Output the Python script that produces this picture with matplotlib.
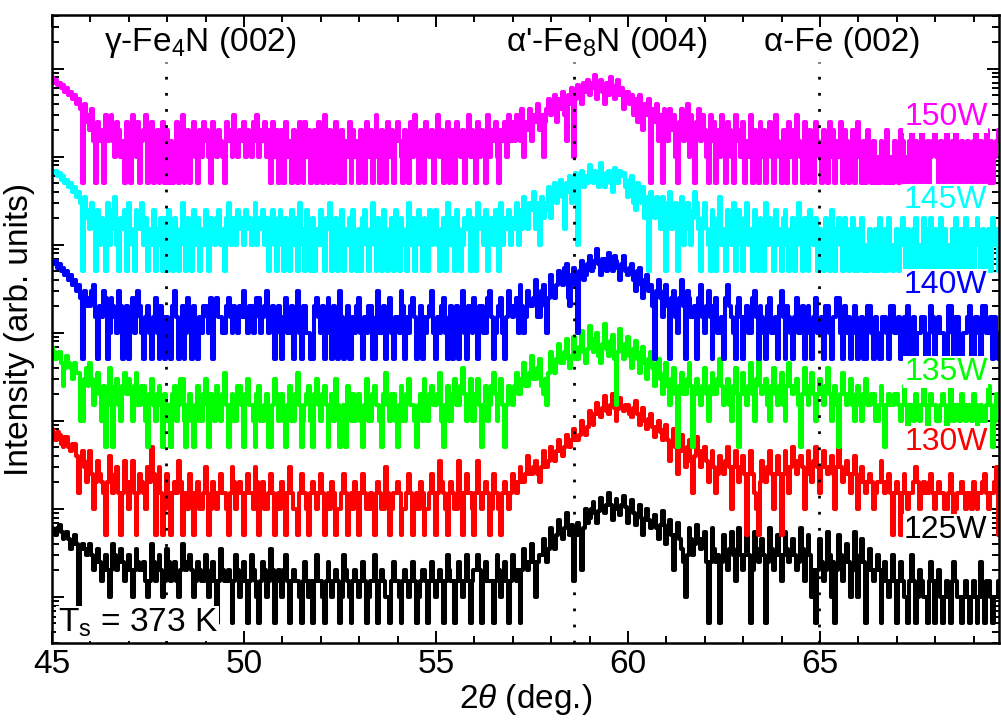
import numpy as np
import matplotlib
matplotlib.use('Agg')
import matplotlib.pyplot as plt
from matplotlib.ticker import LogLocator, NullFormatter, MultipleLocator

plt.rcParams['font.family'] = ['Liberation Sans', 'DejaVu Sans']
plt.rcParams['mathtext.fontset'] = 'custom'
plt.rcParams['mathtext.rm'] = 'Liberation Sans'
plt.rcParams['mathtext.it'] = 'Liberation Sans:italic'

# XRD counts, one value every 0.05 deg from 45.00 to 69.65
# (one line = one degree)
start_2theta = 45.0
step_2theta = 0.05

counts_125W = [
    12, 11, 10, 12, 13, 11, 9, 10, 11, 9, 7, 8, 10, 8, 1, 7, 8, 7, 6, 7,
    8, 6, 4, 5, 7, 5, 3, 4, 6, 4, 2, 4, 8, 6, 4, 5, 7, 5, 3, 4,
    6, 4, 2, 4, 7, 5, 4, 4, 5, 3, 2, 3, 8, 5, 3, 4, 6, 4, 2, 3,
    7, 5, 3, 4, 5, 3, 2, 4, 8, 5, 4, 5, 6, 4, 2, 3, 5, 4, 3, 3,
    6, 4, 2, 3, 5, 3, 1, 3, 7, 4, 3, 3, 4, 3, 1, 3, 6, 4, 2, 3,
    5, 3, 1, 3, 6, 4, 3, 2, 1, 3, 5, 4, 2, 3, 7, 4, 1, 3, 4, 3,
    2, 4, 6, 3, 1, 3, 4, 3, 3, 2, 1, 3, 5, 3, 2, 3, 1, 3, 6, 3,
    3, 2, 1, 3, 5, 3, 2, 3, 4, 3, 1, 2, 6, 4, 3, 2, 1, 3, 4, 3,
    2, 3, 5, 3, 1, 2, 3, 3, 6, 3, 1, 3, 4, 3, 2, 2, 1, 3, 5, 3,
    3, 2, 1, 3, 4, 3, 2, 3, 5, 3, 1, 2, 3, 4, 4, 3, 1, 3, 5, 3,
    2, 3, 4, 3, 1, 3, 6, 4, 3, 3, 1, 3, 5, 3, 2, 3, 6, 3, 1, 3,
    4, 4, 6, 4, 1, 3, 5, 3, 3, 3, 1, 3, 6, 4, 2, 3, 5, 3, 1, 3,
    6, 4, 3, 4, 1, 4, 7, 5, 4, 5, 8, 5, 2, 5, 6, 6, 9, 7, 5, 7,
    12, 9, 7, 10, 15, 11, 9, 12, 18, 12, 10, 13, 3, 10, 14, 10, 4, 12, 20, 14,
    16, 20, 24, 18, 14, 19, 27, 21, 18, 22, 30, 22, 15, 20, 26, 20, 17, 22, 28, 21,
    14, 19, 25, 18, 13, 17, 22, 16, 10, 15, 20, 15, 12, 14, 17, 12, 9, 13, 19, 13,
    8, 11, 15, 10, 4, 10, 14, 9, 7, 5, 2, 6, 12, 9, 6, 8, 13, 9, 7, 9,
    11, 5, 1, 5, 12, 7, 5, 6, 1, 5, 10, 6, 4, 7, 11, 6, 3, 7, 12, 6,
    4, 6, 10, 6, 1, 4, 11, 7, 5, 6, 9, 6, 1, 5, 12, 7, 4, 6, 10, 6,
    3, 6, 11, 7, 5, 6, 9, 6, 4, 5, 12, 7, 3, 6, 10, 6, 2, 4, 1, 4,
    9, 5, 3, 4, 11, 6, 2, 5, 1, 4, 10, 6, 3, 5, 8, 5, 2, 4, 11, 6,
    2, 5, 9, 5, 1, 4, 7, 4, 3, 4, 6, 4, 1, 3, 5, 3, 2, 3, 6, 3,
    1, 3, 5, 3, 2, 2, 1, 3, 6, 3, 1, 2, 4, 3, 2, 2, 1, 3, 5, 3,
    1, 3, 4, 2, 1, 2, 3, 2, 1, 3, 5, 3, 2, 2, 1, 2, 3, 2, 1, 2,
    3, 2, 1, 2, 5, 2, 1, 3, 3, 2, 1, 2, 2, 3,
]

counts_130W = [
    16, 14, 12, 15, 14, 11, 10, 13, 13, 10, 9, 11, 11, 8, 3, 7, 9, 6, 4, 7,
    9, 5, 2, 4, 7, 5, 4, 3, 1, 4, 8, 5, 3, 4, 6, 3, 1, 3, 7, 4,
    2, 4, 7, 3, 1, 3, 5, 4, 3, 2, 6, 4, 10, 5, 1, 3, 6, 3, 1, 2,
    5, 3, 1, 3, 4, 3, 7, 4, 1, 2, 3, 2, 5, 3, 1, 3, 4, 2, 2, 3,
    6, 3, 1, 2, 4, 3, 2, 3, 5, 3, 3, 2, 1, 3, 6, 4, 2, 3, 4, 3,
    1, 3, 5, 3, 3, 2, 6, 4, 1, 3, 4, 2, 2, 3, 5, 3, 1, 2, 3, 2,
    4, 3, 1, 3, 6, 3, 2, 2, 1, 3, 5, 3, 3, 2, 1, 3, 4, 3, 2, 3,
    5, 3, 1, 2, 3, 2, 4, 3, 1, 2, 2, 3, 5, 3, 1, 2, 3, 2, 4, 3,
    1, 3, 5, 3, 2, 2, 3, 2, 1, 3, 4, 3, 2, 2, 6, 3, 1, 2, 3, 3,
    4, 3, 1, 2, 2, 3, 5, 3, 1, 2, 3, 2, 4, 3, 1, 2, 2, 3, 5, 3,
    1, 3, 7, 4, 3, 2, 1, 3, 4, 3, 2, 2, 7, 3, 1, 3, 5, 3, 3, 2,
    1, 3, 7, 3, 2, 3, 4, 3, 1, 2, 5, 3, 3, 2, 1, 3, 4, 3, 2, 3,
    5, 4, 3, 4, 6, 4, 4, 5, 8, 5, 5, 6, 7, 5, 4, 6, 9, 6, 6, 7,
    10, 8, 7, 9, 12, 9, 8, 10, 14, 11, 10, 12, 16, 12, 12, 14, 20, 15, 14, 17,
    26, 20, 18, 24, 32, 24, 22, 28, 38, 26, 24, 30, 40, 28, 20, 27, 36, 28, 26, 30,
    30, 24, 22, 28, 34, 24, 18, 22, 28, 20, 16, 21, 24, 17, 13, 17, 20, 15, 12, 16,
    18, 12, 7, 11, 16, 10, 5, 9, 14, 9, 6, 10, 12, 7, 3, 8, 13, 9, 6, 9,
    10, 7, 4, 6, 9, 6, 3, 5, 8, 6, 5, 7, 10, 6, 2, 6, 9, 6, 4, 6,
    8, 5, 1, 5, 9, 5, 3, 2, 1, 4, 7, 5, 4, 6, 9, 5, 2, 5, 8, 5,
    1, 5, 9, 6, 3, 6, 10, 7, 5, 7, 8, 6, 2, 5, 9, 6, 4, 7, 10, 6,
    3, 6, 9, 6, 5, 6, 8, 5, 2, 6, 10, 6, 4, 5, 7, 5, 3, 5, 8, 5,
    2, 4, 6, 4, 3, 4, 5, 4, 2, 3, 4, 4, 7, 4, 3, 4, 5, 3, 1, 3,
    4, 3, 1, 3, 5, 3, 2, 3, 3, 4, 6, 4, 2, 3, 4, 3, 3, 4, 5, 3,
    2, 3, 4, 3, 3, 2, 2, 3, 5, 3, 1, 2, 3, 3, 4, 3, 2, 3, 3, 2,
    4, 3, 2, 3, 3, 4, 5, 3, 2, 3, 3, 4, 6, 1,
]

counts_135W = [
    14, 12, 10, 11, 12, 9, 5, 8, 11, 9, 8, 6, 9, 7, 7, 2, 2, 6, 8, 5,
    9, 6, 3, 5, 7, 4, 2, 5, 1, 3, 8, 5, 1, 4, 6, 3, 2, 5, 7, 4,
    6, 4, 2, 5, 7, 3, 3, 5, 5, 2, 1, 4, 6, 3, 2, 4, 5, 3, 1, 4,
    2, 3, 1, 4, 5, 2, 3, 6, 6, 2, 1, 3, 4, 2, 1, 3, 5, 2, 2, 4,
    6, 3, 1, 4, 3, 2, 5, 3, 2, 4, 7, 3, 1, 3, 4, 2, 2, 5, 5, 3,
    1, 4, 6, 3, 3, 2, 1, 4, 5, 2, 2, 3, 4, 1, 1, 3, 6, 4, 2, 3,
    4, 2, 1, 3, 5, 2, 2, 4, 7, 3, 1, 2, 3, 4, 5, 2, 1, 4, 6, 3,
    2, 4, 5, 3, 1, 3, 4, 2, 6, 3, 1, 2, 3, 1, 5, 3, 2, 4, 2, 3,
    4, 2, 1, 3, 6, 2, 2, 4, 5, 3, 3, 2, 1, 4, 7, 3, 2, 4, 4, 2,
    1, 3, 5, 2, 2, 4, 6, 3, 3, 2, 1, 3, 4, 2, 6, 3, 2, 4, 5, 3,
    3, 4, 7, 2, 1, 3, 5, 2, 2, 4, 6, 3, 3, 5, 8, 4, 2, 3, 6, 2,
    2, 4, 6, 3, 1, 3, 5, 2, 3, 5, 7, 4, 2, 4, 6, 3, 1, 3, 5, 4,
    3, 5, 7, 4, 4, 6, 9, 5, 5, 7, 11, 6, 6, 8, 10, 5, 4, 6, 3, 7,
    12, 8, 7, 10, 15, 9, 9, 12, 17, 10, 8, 11, 18, 10, 10, 14, 21, 12, 9, 13,
    24, 14, 12, 17, 20, 11, 9, 15, 25, 13, 11, 16, 19, 10, 3, 12, 22, 14, 10, 15,
    18, 11, 8, 13, 16, 10, 7, 12, 14, 9, 6, 10, 12, 8, 5, 9, 10, 6, 4, 7,
    9, 5, 3, 6, 8, 4, 1, 5, 7, 4, 4, 6, 9, 5, 1, 4, 6, 4, 3, 5,
    8, 4, 2, 5, 7, 4, 4, 6, 10, 5, 3, 4, 6, 3, 2, 5, 8, 4, 1, 4,
    7, 4, 3, 5, 9, 4, 2, 6, 10, 5, 4, 5, 6, 3, 2, 5, 8, 4, 3, 5,
    7, 3, 2, 5, 9, 5, 4, 5, 6, 3, 1, 4, 8, 4, 3, 5, 7, 4, 2, 4,
    6, 4, 3, 5, 8, 4, 2, 4, 5, 3, 1, 4, 7, 4, 3, 4, 6, 3, 2, 4,
    5, 3, 2, 4, 6, 3, 3, 4, 4, 2, 2, 3, 5, 3, 1, 3, 4, 3, 3, 4,
    4, 3, 2, 3, 5, 3, 1, 3, 3, 2, 4, 3, 2, 3, 5, 3, 1, 3, 4, 3,
    3, 2, 2, 3, 4, 3, 1, 2, 5, 3, 2, 3, 3, 2, 4, 3, 2, 3, 3, 2,
    4, 3, 1, 2, 3, 2, 2, 3, 5, 3, 1, 2, 4, 3,
]

counts_140W = [
    13, 12, 13, 11, 12, 10, 11, 9, 10, 8, 9, 7, 8, 6, 7, 5, 1, 6, 4, 5,
    4, 6, 7, 3, 1, 4, 3, 6, 5, 1, 2, 5, 4, 3, 2, 6, 4, 1, 3, 4,
    1, 3, 5, 2, 3, 6, 4, 2, 1, 3, 4, 2, 1, 3, 5, 2, 1, 4, 3, 1,
    3, 2, 1, 4, 6, 3, 1, 2, 4, 1, 2, 5, 3, 1, 4, 2, 1, 3, 2, 4,
    4, 3, 2, 5, 1, 4, 5, 3, 3, 2, 2, 4, 5, 3, 2, 4, 3, 2, 4, 3,
    6, 3, 2, 4, 4, 2, 3, 5, 5, 2, 3, 4, 6, 2, 3, 4, 1, 3, 4, 2,
    1, 3, 5, 2, 2, 4, 1, 3, 6, 2, 1, 4, 4, 2, 2, 1, 1, 4, 5, 3,
    2, 4, 1, 3, 5, 2, 1, 4, 3, 1, 6, 3, 1, 2, 4, 1, 1, 3, 2, 4,
    5, 2, 1, 3, 2, 4, 4, 1, 1, 3, 6, 2, 2, 4, 1, 3, 5, 2, 1, 3,
    3, 2, 6, 4, 1, 3, 2, 4, 5, 3, 1, 2, 4, 1, 3, 2, 3, 4, 6, 2,
    1, 3, 2, 4, 5, 2, 1, 3, 4, 1, 2, 4, 1, 3, 6, 2, 1, 4, 3, 2,
    5, 3, 1, 4, 4, 2, 2, 5, 6, 3, 1, 2, 3, 4, 5, 2, 1, 3, 6, 4,
    3, 4, 5, 2, 7, 4, 2, 3, 6, 4, 4, 5, 8, 3, 3, 6, 7, 4, 2, 5,
    9, 6, 5, 7, 10, 8, 7, 11, 12, 5, 4, 9, 11, 7, 2, 10, 13, 8, 9, 12,
    15, 10, 11, 13, 18, 12, 9, 14, 14, 10, 16, 12, 10, 15, 13, 11, 8, 12, 15, 10,
    9, 11, 12, 8, 6, 10, 11, 7, 5, 8, 9, 6, 7, 4, 1, 6, 8, 5, 3, 6,
    7, 4, 1, 5, 6, 3, 2, 5, 8, 4, 1, 6, 5, 3, 3, 4, 1, 5, 7, 3,
    2, 4, 6, 3, 1, 4, 5, 2, 2, 3, 1, 5, 7, 4, 3, 2, 1, 4, 5, 3,
    1, 3, 4, 2, 2, 5, 6, 3, 1, 4, 3, 2, 1, 4, 5, 2, 2, 3, 1, 4,
    6, 3, 1, 4, 3, 2, 1, 3, 5, 2, 2, 4, 1, 3, 4, 2, 1, 3, 5, 2,
    2, 3, 1, 4, 4, 2, 1, 3, 3, 5, 5, 2, 1, 4, 2, 3, 1, 2, 4, 3,
    1, 2, 3, 1, 1, 4, 4, 2, 1, 3, 2, 1, 1, 3, 3, 2, 1, 4, 4, 2,
    2, 3, 1, 2, 3, 1, 4, 2, 1, 3, 1, 2, 2, 3, 3, 1, 1, 2, 4, 3,
    1, 2, 3, 2, 2, 1, 1, 4, 4, 2, 1, 3, 3, 1, 1, 2, 2, 3, 4, 1,
    1, 3, 3, 2, 1, 4, 4, 2, 2, 3, 1, 3, 2, 1,
]

counts_145W = [
    14, 13, 14, 12, 13, 11, 12, 10, 11, 9, 10, 8, 9, 7, 8, 6, 1, 7, 4, 5,
    3, 6, 4, 1, 5, 2, 4, 3, 1, 6, 2, 5, 3, 7, 2, 1, 4, 3, 5, 1,
    6, 3, 2, 1, 5, 4, 3, 6, 2, 4, 1, 3, 2, 5, 1, 3, 2, 4, 1, 4,
    1, 5, 3, 1, 4, 2, 1, 3, 6, 2, 1, 4, 3, 1, 5, 2, 4, 1, 3, 2,
    5, 3, 1, 4, 3, 2, 4, 5, 2, 3, 1, 4, 6, 2, 3, 4, 2, 5, 3, 4,
    2, 5, 3, 4, 2, 3, 6, 2, 4, 3, 5, 2, 4, 1, 3, 5, 2, 1, 4, 5,
    2, 1, 4, 3, 1, 5, 2, 4, 1, 6, 3, 2, 1, 5, 3, 1, 4, 1, 3, 2,
    5, 2, 1, 4, 3, 6, 1, 3, 4, 1, 2, 5, 1, 3, 2, 4, 1, 5, 2, 1,
    3, 1, 4, 5, 2, 1, 3, 6, 2, 1, 4, 3, 1, 5, 2, 1, 3, 4, 1, 5,
    2, 1, 4, 3, 2, 1, 6, 2, 4, 1, 3, 5, 2, 1, 4, 3, 1, 5, 2, 4,
    5, 2, 1, 3, 4, 1, 6, 3, 2, 4, 1, 5, 3, 1, 2, 4, 3, 5, 1, 4,
    2, 1, 6, 3, 4, 2, 5, 1, 3, 4, 2, 5, 3, 1, 6, 2, 4, 3, 5, 2,
    4, 3, 6, 2, 5, 3, 7, 4, 3, 6, 5, 8, 3, 6, 2, 7, 4, 6, 5, 9,
    4, 7, 10, 6, 9, 11, 7, 3, 10, 8, 12, 6, 9, 13, 2, 11, 14, 9, 12, 10,
    16, 11, 10, 14, 13, 9, 17, 12, 9, 13, 14, 10, 8, 15, 11, 10, 14, 12, 13, 9,
    7, 11, 12, 6, 5, 10, 8, 6, 9, 4, 7, 1, 8, 5, 4, 7, 6, 3, 7, 5,
    1, 6, 8, 3, 5, 6, 1, 4, 7, 2, 3, 6, 5, 2, 4, 8, 6, 3, 1, 4,
    6, 3, 2, 1, 5, 4, 1, 3, 7, 2, 3, 1, 5, 4, 2, 6, 1, 3, 5, 2,
    1, 4, 6, 2, 3, 1, 5, 2, 1, 4, 3, 1, 6, 2, 4, 3, 1, 5, 2, 3,
    1, 4, 5, 2, 1, 3, 4, 1, 2, 6, 3, 1, 4, 2, 1, 5, 3, 2, 4, 1,
    3, 2, 1, 4, 3, 1, 5, 2, 1, 3, 4, 2, 1, 4, 3, 1, 2, 4, 1, 3,
    1, 3, 4, 1, 2, 1, 3, 2, 1, 3, 1, 4, 2, 1, 3, 1, 4, 2, 1, 2,
    3, 1, 2, 4, 2, 1, 3, 2, 1, 3, 4, 1, 2, 1, 4, 3, 1, 2, 4, 1,
    3, 2, 1, 4, 1, 3, 2, 1, 2, 3, 1, 4, 2, 1, 3, 1, 4, 2, 1, 3,
    1, 3, 4, 2, 1, 3, 2, 1, 3, 1, 4, 2, 3, 1,
]

counts_150W = [
    16, 14, 15, 13, 14, 12, 13, 11, 12, 10, 11, 9, 10, 8, 9, 7, 1, 8, 5, 6,
    4, 7, 3, 1, 5, 3, 4, 1, 6, 3, 4, 6, 3, 2, 5, 4, 2, 3, 1, 5,
    4, 1, 6, 3, 2, 5, 1, 3, 4, 6, 1, 2, 5, 1, 3, 4, 1, 3, 5, 1,
    4, 1, 3, 1, 2, 5, 1, 3, 6, 1, 2, 4, 1, 3, 5, 2, 1, 4, 2, 5,
    3, 4, 2, 1, 5, 3, 2, 4, 3, 2, 1, 5, 3, 4, 2, 6, 3, 2, 4, 3,
    5, 2, 4, 3, 2, 5, 3, 6, 2, 4, 3, 5, 2, 4, 1, 5, 2, 4, 1, 3,
    4, 1, 5, 2, 3, 1, 4, 2, 1, 5, 3, 1, 5, 2, 4, 1, 3, 4, 1, 5,
    2, 1, 6, 3, 1, 4, 2, 1, 5, 3, 1, 4, 1, 3, 2, 5, 1, 4, 2, 3,
    1, 4, 3, 1, 5, 2, 4, 1, 3, 6, 2, 1, 4, 3, 1, 5, 2, 4, 1, 3,
    5, 3, 2, 1, 4, 3, 1, 5, 2, 6, 3, 1, 4, 2, 1, 5, 3, 2, 4, 1,
    3, 6, 2, 4, 1, 3, 5, 1, 2, 4, 1, 5, 3, 2, 4, 1, 3, 6, 2, 4,
    3, 1, 5, 2, 4, 3, 1, 6, 2, 4, 3, 5, 2, 1, 4, 3, 5, 2, 6, 3,
    5, 3, 6, 4, 3, 7, 2, 5, 4, 7, 3, 6, 5, 8, 4, 6, 2, 5, 7, 9,
    6, 8, 10, 5, 9, 7, 11, 6, 3, 10, 8, 12, 2, 9, 13, 10, 8, 14, 11, 15,
    10, 14, 12, 17, 9, 13, 15, 11, 8, 14, 10, 16, 12, 9, 13, 15, 10, 12, 7, 11,
    11, 8, 10, 6, 9, 5, 10, 7, 4, 8, 6, 9, 1, 7, 5, 8, 3, 6, 1, 7,
    5, 3, 7, 4, 6, 2, 1, 5, 7, 3, 4, 8, 2, 6, 3, 1, 5, 7, 3, 6,
    4, 2, 1, 6, 3, 5, 1, 4, 2, 6, 3, 1, 5, 4, 2, 1, 6, 3, 4, 2,
    5, 1, 3, 2, 6, 1, 4, 3, 1, 5, 2, 4, 1, 3, 5, 2, 1, 6, 3, 2,
    1, 4, 3, 1, 5, 2, 4, 1, 6, 3, 2, 1, 5, 3, 1, 4, 2, 1, 5, 3,
    2, 1, 4, 3, 1, 5, 2, 4, 1, 3, 2, 5, 1, 4, 3, 1, 2, 4, 1, 3,
    5, 2, 1, 3, 1, 4, 2, 1, 3, 1, 2, 1, 3, 2, 1, 4, 1, 2, 1, 3,
    2, 1, 4, 3, 1, 2, 1, 3, 4, 1, 3, 2, 1, 4, 2, 1, 3, 1, 2, 3,
    4, 2, 1, 3, 2, 1, 4, 2, 1, 3, 1, 4, 2, 1, 3, 2, 1, 3, 2, 1,
    3, 4, 1, 2, 3, 1, 2, 4, 1, 3, 1, 2, 3, 4,
]

series = [
    ('125W', counts_125W, 'black', 0.5),
    ('130W', counts_130W, '#ff0000', 5),
    ('135W', counts_135W, '#00ff00', 50),
    ('140W', counts_140W, '#0000ff', 500),
    ('145W', counts_145W, '#00ffff', 5000),
    ('150W', counts_150W, '#ff00ff', 50000),
]
label_baseline_px = [538, 450, 380, 293, 208, 125]

peak_names = ['γ-Fe$_4$N (002)', "α'-Fe$_8$N (004)", 'α-Fe (002)']
peak_positions = [47.97, 58.6, 64.97]

fig = plt.figure(figsize=(10.01, 7.22), dpi=100)
ax = fig.add_axes([52 / 1001, 79 / 722, 947 / 1001, 628 / 722])

def axfrac_y(px):
    # pixel row in the image -> axes fraction
    return (643 - px) / 628.0

for (name, cnt, col, off), ybase in zip(series, label_baseline_px):
    cnt = np.array(cnt, dtype=float)
    x = start_2theta + step_2theta * np.arange(len(cnt))
    ax.plot(x, cnt * off, color=col, lw=2.9, drawstyle='steps-mid', zorder=2)
    ax.text(0.988, axfrac_y(ybase), name, color=col, fontsize=23,
            ha='right', va='baseline', transform=ax.transAxes, zorder=5,
            bbox=dict(facecolor='white', edgecolor='none', pad=0.5))

for pos in peak_positions:
    ax.axvline(pos, ymin=0, ymax=axfrac_y(62), color='black', lw=2.0,
               linestyle=(0, (1, 4.8)), zorder=3)

text_x = [0.156, 0.586, 0.835]
for name, tx in zip(peak_names, text_x):
    ax.text(tx, axfrac_y(51), name, fontsize=24, ha='center', va='baseline',
            transform=ax.transAxes)

ax.text(0.006, axfrac_y(632), r'T$_\mathrm{s}$ = 373 K', fontsize=24,
        ha='left', va='baseline', transform=ax.transAxes, zorder=5,
        bbox=dict(facecolor='white', edgecolor='none', pad=1))

ax.set_yscale('log')
ax.set_xlim(45, 69.66)
ax.set_ylim(0.3, 4.1e6)
ax.yaxis.set_major_locator(LogLocator(base=10, numticks=20))
ax.yaxis.set_minor_locator(LogLocator(base=10, subs=np.arange(2, 10), numticks=40))
ax.yaxis.set_major_formatter(NullFormatter())
ax.yaxis.set_minor_formatter(NullFormatter())
ax.xaxis.set_major_locator(MultipleLocator(5))
ax.xaxis.set_minor_locator(MultipleLocator(1))

ax.tick_params(which='both', direction='in', top=True, right=True, width=1.4)
ax.tick_params(which='major', length=8.5, labelsize=24, pad=4)
ax.tick_params(which='minor', length=5)
for sp in ax.spines.values():
    sp.set_linewidth(1.8)

ax.set_xlabel(r'2$\it{\theta}$ (deg.)', fontsize=24, labelpad=2)
ax.set_ylabel('Intensity (arb. units)', fontsize=24, labelpad=8)

fig.savefig('out.png', dpi=100)
